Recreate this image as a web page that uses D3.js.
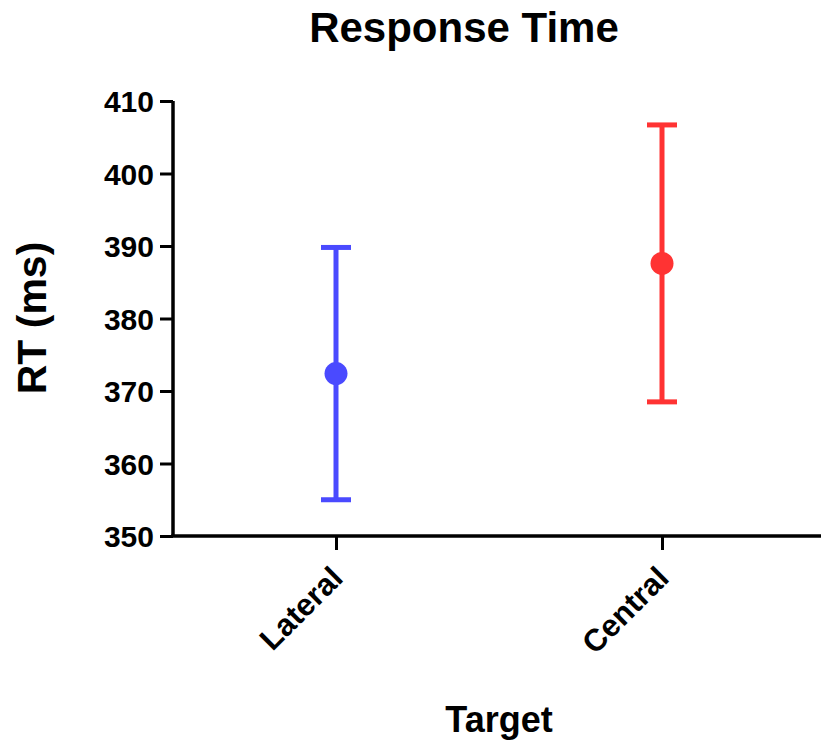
<!DOCTYPE html>
<html>
<head>
<meta charset="utf-8">
<script src="https://cdn.jsdelivr.net/npm/d3@7"></script>
<style>
  html, body { margin: 0; padding: 0; background: #fff; }
  svg { display: block; }
  text { font-family: "Liberation Sans", Arial, sans-serif; font-weight: bold; fill: #000; }
</style>
</head>
<body>
<svg id="chart" width="821" height="740"></svg>
<script>
// Mean response time per target condition, with error bar half-widths
const categories = ["Lateral", "Central"];
const means = [372.4, 387.6];
const errors = [17.4, 19.1];
const colors = ["#4a4aff", "#ff3333"];
const yTicks = [350, 360, 370, 380, 390, 400, 410];

const W = 821, H = 740;
const plotLeft = 173, plotRight = 825, plotTop = 101, plotBottom = 536;

const svg = d3.select("#chart");

const x = d3.scalePoint().domain(categories).range([plotLeft, plotRight]).padding(0.5);
const y = d3.scaleLinear().domain([350, 410]).range([plotBottom, plotTop]);

// Y axis
const yAxis = svg.append("g")
  .attr("transform", `translate(${plotLeft},0)`)
  .call(d3.axisLeft(y).tickValues(yTicks).tickSize(13).tickPadding(6).tickFormat(d3.format("d")));
yAxis.select(".domain").attr("stroke", "#000").attr("stroke-width", 3.5).attr("d", `M0,${plotTop}V${plotBottom}`);
yAxis.selectAll(".tick line").attr("stroke", "#000").attr("stroke-width", 3);
yAxis.selectAll(".tick text").style("font-size", "30px").attr("dy", "0.36em");

// X axis
const xAxis = svg.append("g")
  .attr("transform", `translate(0,${plotBottom})`)
  .call(d3.axisBottom(x).tickSize(14).tickFormat(""));
xAxis.select(".domain").attr("stroke", "#000").attr("stroke-width", 3.5).attr("d", `M${plotLeft - 1.75},0H${W}`);
xAxis.selectAll(".tick line").attr("stroke", "#000").attr("stroke-width", 3);
xAxis.selectAll(".tick").append("text")
  .attr("transform", "translate(8,44) rotate(-45)")
  .attr("text-anchor", "end")
  .style("font-size", "31px")
  .text(d => d);

// Error bars and mean markers
const capW = 30;
const groups = svg.append("g").selectAll("g")
  .data(categories.map((c, i) => ({ c, m: means[i], e: errors[i], col: colors[i] })))
  .join("g");

groups.append("line")
  .attr("x1", d => x(d.c)).attr("x2", d => x(d.c))
  .attr("y1", d => y(d.m + d.e)).attr("y2", d => y(d.m - d.e))
  .attr("stroke", d => d.col).attr("stroke-width", 5);
groups.append("line")
  .attr("x1", d => x(d.c) - capW / 2).attr("x2", d => x(d.c) + capW / 2)
  .attr("y1", d => y(d.m + d.e)).attr("y2", d => y(d.m + d.e))
  .attr("stroke", d => d.col).attr("stroke-width", 5);
groups.append("line")
  .attr("x1", d => x(d.c) - capW / 2).attr("x2", d => x(d.c) + capW / 2)
  .attr("y1", d => y(d.m - d.e)).attr("y2", d => y(d.m - d.e))
  .attr("stroke", d => d.col).attr("stroke-width", 5);
groups.append("circle")
  .attr("cx", d => x(d.c)).attr("cy", d => y(d.m))
  .attr("r", 11.5)
  .attr("fill", d => d.col);

// Titles
svg.append("text")
  .attr("x", 464).attr("y", 42)
  .attr("text-anchor", "middle")
  .style("font-size", "42px")
  .text("Response Time");

svg.append("text")
  .attr("transform", "translate(46,318) rotate(-90)")
  .attr("text-anchor", "middle")
  .style("font-size", "41px")
  .text("RT (ms)");

svg.append("text")
  .attr("x", 499).attr("y", 732)
  .attr("text-anchor", "middle")
  .style("font-size", "36px")
  .text("Target");
</script>
</body>
</html>
